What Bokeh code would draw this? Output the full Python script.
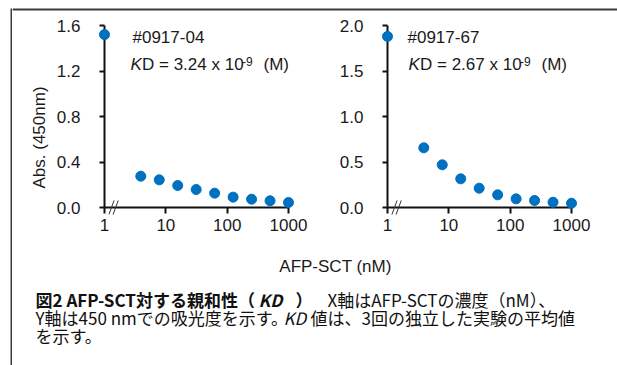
from bokeh.plotting import figure
from bokeh.models import Range1d, FixedTicker, NumeralTickFormatter, Label, Title
from bokeh.layouts import column, row
from bokeh.embed import file_html
from bokeh.resources import INLINE
from bokeh.core.properties import value

# ---- data ----
# first point = blank (0 nM), drawn at x = 1 on the broken axis
conc_nM = [1, 3.90625, 7.8125, 15.625, 31.25, 62.5, 125, 250, 500, 1000]
abs_0917_04 = [1.52, 0.275, 0.243, 0.193, 0.158, 0.126, 0.091, 0.073, 0.059, 0.044]
abs_0917_67 = [1.88, 0.656, 0.469, 0.315, 0.212, 0.139, 0.095, 0.077, 0.058, 0.047]
x_ticks = [1, 10, 100, 1000]
y_ticks_04 = [0.0, 0.4, 0.8, 1.2, 1.6]
y_ticks_67 = [0.0, 0.5, 1.0, 1.5, 2.0]
clone_names = ["#0917-04", "#0917-67"]
kd_values = ["3.24", "2.67"]
x_label = "AFP-SCT (nM)"
y_label = "Abs. (450nm)"

FONT = "Liberation Sans"
JP = "Noto Sans CJK JP"
BLUE = "#0070C0"
INK = "#1a1a1a"
AXC = "#111111"
FRAME = "#3a3a3a"

PAGE_W, PAGE_H = 617, 365
BOX_X, BOX_Y, BOX_T = 10, 8, 2      # figure box: left/top edge, line thickness
TOP_H = 17                           # strip above the panels
PANEL_H = 233
CAP_H = PAGE_H - TOP_H - PANEL_H
CW = PAGE_W - BOX_X - BOX_T


def blank(w, h):
    s = figure(width=w, height=h, x_range=Range1d(0, w), y_range=Range1d(h, 0),
               x_axis_type=None, y_axis_type=None, output_backend="svg",
               toolbar_location=None, min_border=0)
    s.grid.visible = False
    s.outline_line_color = None
    return s


def panel(yvals, yticks, name, kd, width, left, right, name_dx, kd_dx, ylab=None):
    p = figure(width=width, height=PANEL_H, x_axis_type="log",
               x_range=Range1d(x_ticks[0], x_ticks[-1]),
               y_range=Range1d(yticks[0], yticks[-1]),
               output_backend="svg", toolbar_location=None,
               min_border_left=left, min_border_right=right,
               min_border_top=8, min_border_bottom=43)
    p.grid.visible = False
    p.outline_line_color = None
    for ax in p.axis:
        ax.axis_line_width = 2
        ax.axis_line_color = AXC
        ax.major_tick_line_width = 2
        ax.major_tick_line_color = AXC
        ax.major_tick_in = 0
        ax.minor_tick_line_color = None
        ax.major_label_text_font = FONT
        ax.major_label_text_font_size = "17px"
        ax.major_label_text_color = INK
    p.xaxis.ticker = FixedTicker(ticks=x_ticks)
    p.xaxis.formatter = NumeralTickFormatter(format="0")
    p.xaxis.major_tick_out = 6
    p.xaxis.major_label_standoff = 5
    p.yaxis.ticker = FixedTicker(ticks=yticks)
    p.yaxis.formatter = NumeralTickFormatter(format="0.0")
    p.yaxis.major_tick_out = 5
    p.yaxis.major_label_standoff = 19

    # axis break marks
    p.scatter([1.30, 1.52], [yticks[0], yticks[0]], marker="dash", size=15,
              angle=1.22, line_color="#333333", line_width=1, level="overlay")
    # data points
    p.scatter(conc_nM, yvals, size=10, color=BLUE, level="overlay")

    top = yticks[-1]
    common = dict(x=x_ticks[0], y=top, text_font=FONT, text_font_size="17px",
                  text_color=INK, text_baseline="middle")
    p.add_layout(Label(text=name, x_offset=name_dx, y_offset=-12, **common))
    p.add_layout(Label(text="K", x_offset=kd_dx, y_offset=-39,
                       text_font_style="italic", **common))
    p.add_layout(Label(text="D = %s x 10" % kd, x_offset=kd_dx + 11.5,
                       y_offset=-39, **common))
    sup = dict(common)
    sup["text_font_size"] = "12px"
    p.add_layout(Label(text="-9", x_offset=kd_dx + 111.5, y_offset=-36, **sup))
    p.add_layout(Label(text="(M)", x_offset=kd_dx + 133, y_offset=-39, **common))
    if ylab:
        p.add_layout(Title(text=ylab, align="left", offset=19, standoff=10,
                           text_font=FONT, text_font_size="17px",
                           text_font_style="normal", text_color=INK), "left")
    return p


f1 = panel(abs_0917_04, y_ticks_04, clone_names[0], kd_values[0],
           300, 92, 24, 28, 26, ylab=y_label)
f2 = panel(abs_0917_67, y_ticks_67, clone_names[1], kd_values[1],
           CW - 300, 75, CW - 300 - 75 - 184, 20, 21)

# ---- frame of the figure box ----
fl = blank(BOX_X + BOX_T, PAGE_H)
fl.quad(left=[BOX_X], right=[BOX_X + BOX_T], top=[BOX_Y], bottom=[PAGE_H],
        color=FRAME, line_color=None)
ft = blank(CW, TOP_H)
ft.quad(left=[0], right=[CW], top=[BOX_Y], bottom=[BOX_Y + BOX_T],
        color=FRAME, line_color=None)

# ---- caption area ----
fc = blank(CW, CAP_H)
fc.text(x=[323], y=[16], text=[x_label], text_font=value(FONT),
        text_font_size="17px", text_color=INK, text_align="center",
        text_baseline="middle")

segs = [
    # (x, y, text, style)
    (23, 49, "図2 AFP-SCT対する親和性（", "bold"),
    (246, 49, "KD", "bold italic"),
    (283, 49, "）", "bold"),
    (315, 49, "X軸はAFP-SCTの濃度（nM）、", "normal"),
    (23, 67, "Y軸は450 nmでの吸光度を示す。", "normal"),
    (271, 67, "KD", "italic"),
    (298, 67, "値は、3回の独立した実験の平均値", "normal"),
    (23, 85, "を示す。", "normal"),
]
for sx, sy, st, sstyle in segs:
    fc.text(x=[sx], y=[sy], text=[st], text_font=value(JP), text_font_size="17px",
            text_font_style=sstyle, text_color="#111111", text_baseline="middle")

layout = row(fl, column(ft, row(f1, f2), fc))

open("out.html", "w").write(file_html(layout, INLINE))
